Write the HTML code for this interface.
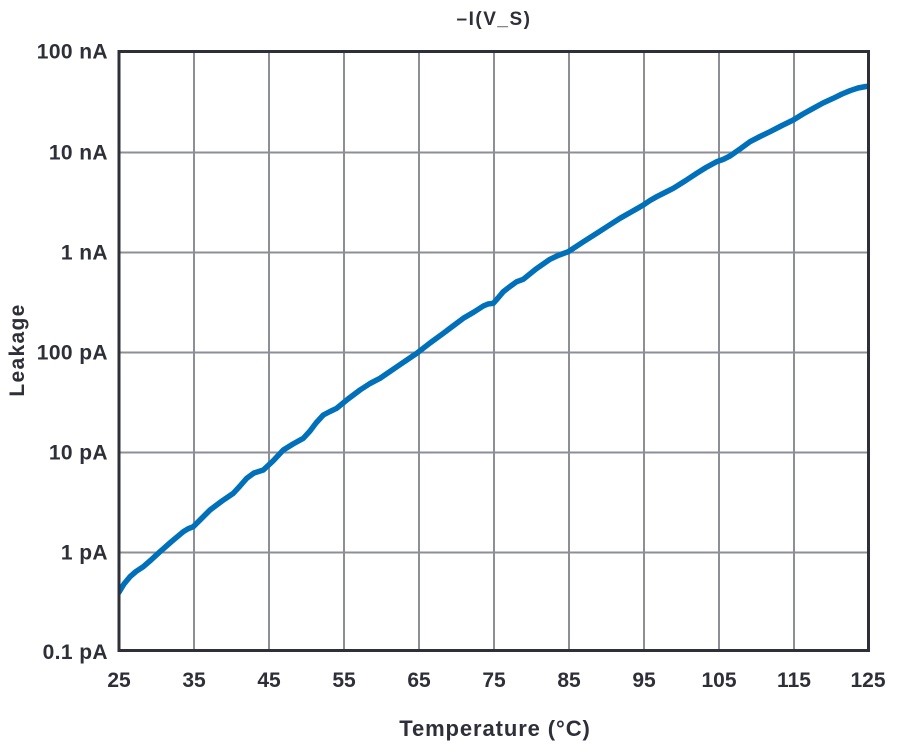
<!DOCTYPE html>
<html>
<head>
<meta charset="utf-8">
<style>
html,body{margin:0;padding:0;background:#fff;}
svg{display:block;}
text{font-family:"Liberation Sans",sans-serif;font-weight:bold;fill:#2e2f38;}
</style>
</head>
<body>
<svg width="897" height="750" viewBox="0 0 897 750" xmlns="http://www.w3.org/2000/svg">
<defs>
<clipPath id="pa"><rect x="119" y="51" width="750" height="600"/></clipPath>
</defs>
<!-- grid -->
<g stroke="#8e8f96" stroke-width="2" fill="none">
<line x1="194" y1="51" x2="194" y2="651"/>
<line x1="269" y1="51" x2="269" y2="651"/>
<line x1="344" y1="51" x2="344" y2="651"/>
<line x1="419" y1="51" x2="419" y2="651"/>
<line x1="494" y1="51" x2="494" y2="651"/>
<line x1="569" y1="51" x2="569" y2="651"/>
<line x1="644" y1="51" x2="644" y2="651"/>
<line x1="719" y1="51" x2="719" y2="651"/>
<line x1="794" y1="51" x2="794" y2="651"/>
<line x1="119" y1="152.5" x2="869" y2="152.5"/>
<line x1="119" y1="252.5" x2="869" y2="252.5"/>
<line x1="119" y1="352.5" x2="869" y2="352.5"/>
<line x1="119" y1="452.5" x2="869" y2="452.5"/>
<line x1="119" y1="552.5" x2="869" y2="552.5"/>
</g>
<!-- curve -->
<g clip-path="url(#pa)">
<polyline fill="none" stroke="#0070ba" stroke-width="5.5" stroke-linejoin="round" stroke-linecap="round"
points="117,595 119.3,591.7 124,584 130,576.7 136,571.5 143.3,566.7 151,560 159.3,552.3 171,542 183.3,531.7 188,528.8 193.3,526.7 201,519 210,510 222,501 233.3,493.3 240,486 246.7,478.3 254,473 263.3,470 273,461 283.3,450 293,444 303.3,438.3 310,431 316,423 323.3,415 330,411.5 336.7,408.3 348,399 360,390 370,383.5 380,378.3 398,366 416.7,353.3 430,343 443.3,333.3 453,326 463.3,318.3 474,312 483.3,306 488,304 493.3,303.3 498,298 503.3,291.7 510,286.5 516.7,281.7 523.3,279.3 536,269 550,259.3 558,255.5 568.3,251.7 583,242 596.7,233.3 608,226 620,218.3 632,211.5 643.3,205 650,200.5 656.7,196.7 665,192.5 673.3,188.3 685,181 696.7,173.3 706,167.5 716.7,161.7 723,159.5 730,156 740,149 750,141.7 760,136.5 770,131.7 782,125.5 793.3,120 803,114 813.3,108.3 823,103 833.3,98.3 842,94 850,90.7 858,88 866,86.5 872,86"/>
</g>
<!-- frame -->
<rect x="119" y="51.5" width="749.5" height="599" fill="none" stroke="#2e2f38" stroke-width="3"/>
<!-- title -->
<text x="494" y="25" font-size="19" letter-spacing="1.5" text-anchor="middle">–I(V_S)</text>
<!-- y ticks -->
<g font-size="21" text-anchor="end">
<text x="108" y="58.5" letter-spacing="0.4">100 nA</text>
<text x="108" y="159.5" letter-spacing="0.4">10 nA</text>
<text x="108" y="259.5" letter-spacing="0.4">1 nA</text>
<text x="108" y="359.5" letter-spacing="0.4">100 pA</text>
<text x="108" y="459.5" letter-spacing="0.4">10 pA</text>
<text x="108" y="559.5" letter-spacing="0.4">1 pA</text>
<text x="108" y="659" letter-spacing="0.4">0.1 pA</text>
</g>
<!-- x ticks -->
<g font-size="21" text-anchor="middle">
<text x="119" y="687">25</text>
<text x="194" y="687">35</text>
<text x="269" y="687">45</text>
<text x="344" y="687">55</text>
<text x="419" y="687">65</text>
<text x="494" y="687">75</text>
<text x="569" y="687">85</text>
<text x="644" y="687">95</text>
<text x="719" y="687">105</text>
<text x="794" y="687">115</text>
<text x="868" y="687">125</text>
</g>
<text x="495" y="736" font-size="22" letter-spacing="0.9" text-anchor="middle">Temperature (°C)</text>
<text x="0" y="0" font-size="21" letter-spacing="1.3" text-anchor="middle" transform="translate(24,350) rotate(-90)">Leakage</text>
</svg>
</body>
</html>
